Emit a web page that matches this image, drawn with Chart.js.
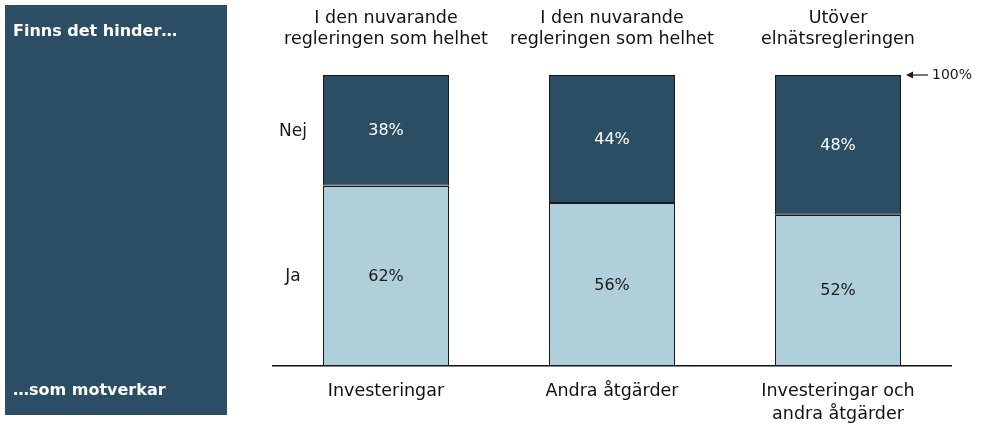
<!DOCTYPE html>
<html><head><meta charset="utf-8">
<script src="https://cdn.jsdelivr.net/npm/chart.js@4.4.1/dist/chart.umd.min.js"></script>
<style>html,body{margin:0;padding:0;background:#fff;overflow:hidden}#wrap{width:983px;height:435px}</style>
</head><body><div id="wrap"><canvas id="c" width="983" height="435"></canvas></div>
<script>
const categories = [["Investeringar"], ["Andra åtgärder"], ["Investeringar och", "andra åtgärder"]];
const headers = [["I den nuvarande", "regleringen som helhet"], ["I den nuvarande", "regleringen som helhet"], ["Utöver", "elnätsregleringen"]];
const jaValues = [62, 56, 52];
const nejValues = [38, 44, 48];
const seriesNames = ["Ja", "Nej"];
const panelTop = "Finns det hinder…";
const panelBottom = "…som motverkar";
const maxLabel = "100%";

const FONT = "'DejaVu Sans', sans-serif";
const DARK = '#2c4e64';
const LIGHT = '#afcfda';

const overlay = {
  id: 'overlay',
  beforeDraw(chart) {
    const ctx = chart.ctx;
    ctx.save();
    ctx.fillStyle = DARK;
    ctx.fillRect(5, 5, 222, 410);
    ctx.fillStyle = '#ffffff';
    ctx.font = "bold 16px " + FONT;
    ctx.textBaseline = 'middle';
    ctx.textAlign = 'left';
    ctx.fillText(panelTop, 13, 32);
    ctx.fillText(panelBottom, 13, 391);
    ctx.restore();
  },
  afterDatasetsDraw(chart) {
    const ctx = chart.ctx;
    const y = chart.scales.y;
    ctx.save();
    ctx.textAlign = 'center';
    ctx.textBaseline = 'middle';
    chart.data.datasets.forEach((ds, di) => {
      const meta = chart.getDatasetMeta(di);
      meta.data.forEach((el, i) => {
        ctx.font = "16px " + FONT;
        ctx.fillStyle = di === 0 ? '#1a1a1a' : '#ffffff';
        ctx.fillText(ds.data[i] + '%', el.x, (el.y + el.base) / 2 + 1);
      });
      const first = meta.data[0];
      const left = first.x - first.width / 2;
      ctx.font = "17px " + FONT;
      ctx.fillStyle = '#1a1a1a';
      ctx.fillText(ds.label, left - 30, (first.y + first.base) / 2 + 1);
    });
    // crisp boundaries between segments
    const m0 = chart.getDatasetMeta(0);
    ctx.strokeStyle = '#1a1a1a';
    ctx.lineWidth = 1;
    m0.data.forEach(el => {
      const yy = Math.round(el.y) + 0.5;
      ctx.beginPath();
      ctx.moveTo(el.x - el.width / 2, yy);
      ctx.lineTo(el.x + el.width / 2, yy);
      ctx.stroke();
    });
    // 100% marker
    const meta = chart.getDatasetMeta(1);
    const last = meta.data[meta.data.length - 1];
    const right = last.x + last.width / 2;
    const yy = y.getPixelForValue(100);
    ctx.fillStyle = '#1a1a1a';
    ctx.lineWidth = 1.2;
    ctx.beginPath();
    ctx.moveTo(right + 10, yy);
    ctx.lineTo(right + 27, yy);
    ctx.stroke();
    ctx.beginPath();
    ctx.moveTo(right + 5, yy);
    ctx.lineTo(right + 12, yy - 3.5);
    ctx.lineTo(right + 12, yy + 3.5);
    ctx.closePath();
    ctx.fill();
    ctx.font = "14px " + FONT;
    ctx.textAlign = 'left';
    ctx.fillText(maxLabel, right + 31, yy);
    ctx.restore();
  }
};

new Chart(document.getElementById('c'), {
  type: 'bar',
  data: {
    labels: categories,
    datasets: [
      { label: seriesNames[0], data: jaValues, backgroundColor: LIGHT, borderColor: '#1a1a1a', borderWidth: 1, borderSkipped: false, categoryPercentage: 1, barPercentage: 0.5575 },
      { label: seriesNames[1], data: nejValues, backgroundColor: DARK, borderColor: '#1a1a1a', borderWidth: 1, borderSkipped: false, categoryPercentage: 1, barPercentage: 0.5575 }
    ]
  },
  options: {
    responsive: false,
    devicePixelRatio: 1,
    animation: false,
    layout: { padding: { left: 273, right: 32, top: 0, bottom: 0 } },
    plugins: { legend: { display: false }, tooltip: { enabled: false } },
    scales: {
      x: {
        stacked: true,
        position: 'bottom',
        grid: { display: false, drawTicks: false },
        border: { display: true, color: '#111', width: 1.5 },
        ticks: { color: '#111', font: { family: FONT, size: 17.5, lineHeight: 1.3 }, padding: 14, maxRotation: 0, autoSkip: false },
        afterFit: s => { s.height = 69; }
      },
      xTop: {
        type: 'category',
        labels: headers,
        position: 'top',
        grid: { display: false, drawTicks: false },
        border: { display: false },
        ticks: { color: '#111', font: { family: FONT, size: 17.5, lineHeight: 1.2 }, padding: 25, maxRotation: 0, autoSkip: false },
        afterFit: s => { s.height = 75; }
      },
      y: { stacked: true, display: false, min: 0, max: 100 }
    }
  },
  plugins: [overlay]
});
</script></body></html>
